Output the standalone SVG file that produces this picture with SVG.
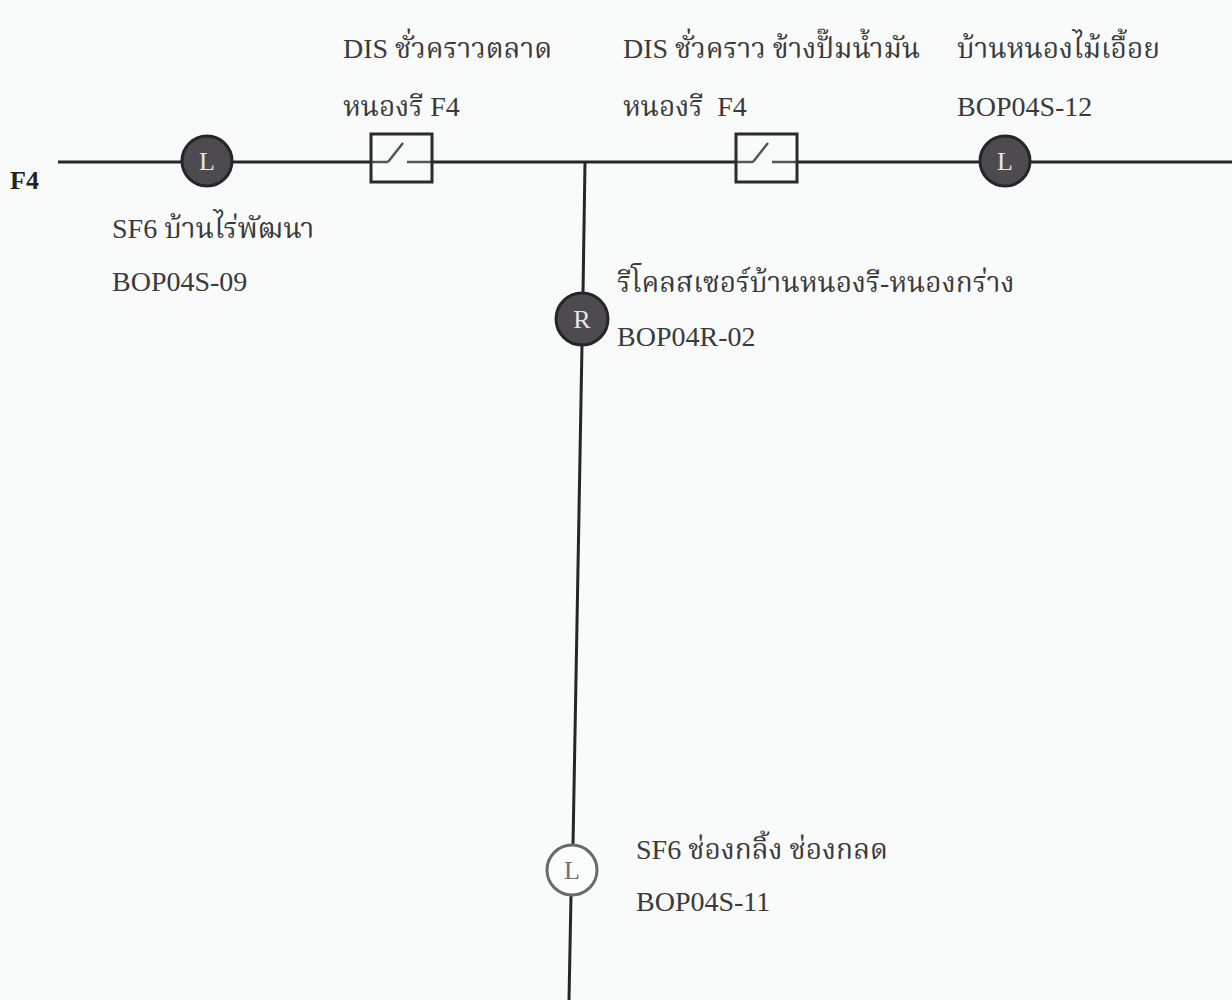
<svg xmlns="http://www.w3.org/2000/svg" width="1232" height="1000" viewBox="0 0 1232 1000">
<style>
.t{font-family:"Liberation Serif","Noto Serif Thai","Noto Sans Thai",serif;font-size:28px;fill:#3a3a3a}
.w{stroke:#262626;stroke-width:3;fill:none}
.sw{fill:none;stroke:#2a2a2a;stroke-width:3}
.blade{stroke:#555;stroke-width:2.5;fill:none}
.dk{fill:#4d4b4f;stroke:#262626;stroke-width:3}
.lt{fill:#fbfcfc;stroke:#6a6a6a;stroke-width:3}
.ltr{font-family:"Liberation Serif",serif;font-size:26px;fill:#e6e6e6;text-anchor:middle}
.ltr2{font-family:"Liberation Serif",serif;font-size:26px;fill:#707070;text-anchor:middle}
</style>
<rect width="1232" height="1000" fill="#f9fbfb"/>
<g id="connectors">
<line class="w" x1="58" y1="162" x2="182" y2="162"/>
<line class="w" x1="232" y1="162" x2="371" y2="162"/>
<line class="w" x1="432" y1="162" x2="736" y2="162"/>
<line class="w" x1="797" y1="162" x2="980" y2="162"/>
<line class="w" x1="1030" y1="162" x2="1232" y2="162"/>
<line class="w" x1="585" y1="162" x2="583" y2="293"/>
<line class="w" x1="582" y1="345" x2="573" y2="845"/>
<line class="w" x1="571" y1="896" x2="569" y2="1000"/>
</g>
<g id="feeder">
<text x="10" y="189" style="font-family:'Liberation Serif',serif;font-size:26px;font-weight:bold;fill:#222">F4</text>
</g>
<g id="sf6-bop04s-09">
<circle class="dk" cx="207" cy="161" r="25"/>
<text class="ltr" x="207" y="170">L</text>
<text class="t" x="112" y="238">SF6 บ้านไร่พัฒนา</text>
<text class="t" x="112" y="291">BOP04S-09</text>
</g>
<g id="dis-1">
<line class="blade" x1="371" y1="162" x2="388" y2="162"/>
<line class="blade" x1="388" y1="162" x2="403" y2="143"/>
<line class="blade" x1="407" y1="162" x2="432" y2="162"/>
<rect class="sw" x="371" y="134" width="61" height="48"/>
<text class="t" x="343" y="58">DIS ชั่วคราวตลาด</text>
<text class="t" x="343" y="116">หนองรี F4</text>
</g>
<g id="dis-2">
<line class="blade" x1="736" y1="162" x2="753" y2="162"/>
<line class="blade" x1="753" y1="162" x2="768" y2="143"/>
<line class="blade" x1="772" y1="162" x2="797" y2="162"/>
<rect class="sw" x="736" y="134" width="61" height="48"/>
<text class="t" x="623" y="58">DIS ชั่วคราว ข้างปั๊มน้ำมัน</text>
<text class="t" x="623" y="116" xml:space="preserve">หนองรี  F4</text>
</g>
<g id="sf6-bop04s-12">
<circle class="dk" cx="1005" cy="161" r="25"/>
<text class="ltr" x="1005" y="170">L</text>
<text class="t" x="957" y="58">บ้านหนองไม้เอื้อย</text>
<text class="t" x="957" y="116">BOP04S-12</text>
</g>
<g id="recloser-bop04r-02">
<circle class="dk" cx="582" cy="319" r="26"/>
<text class="ltr" x="582" y="328">R</text>
<text class="t" x="617" y="292">รีโคลสเซอร์บ้านหนองรี-หนองกร่าง</text>
<text class="t" x="617" y="346">BOP04R-02</text>
</g>
<g id="sf6-bop04s-11">
<circle class="lt" cx="572" cy="870" r="25"/>
<text class="ltr2" x="572" y="879">L</text>
<text class="t" x="636" y="859">SF6 ช่องกลิ้ง ช่องกลด</text>
<text class="t" x="636" y="911">BOP04S-11</text>
</g>
</svg>
